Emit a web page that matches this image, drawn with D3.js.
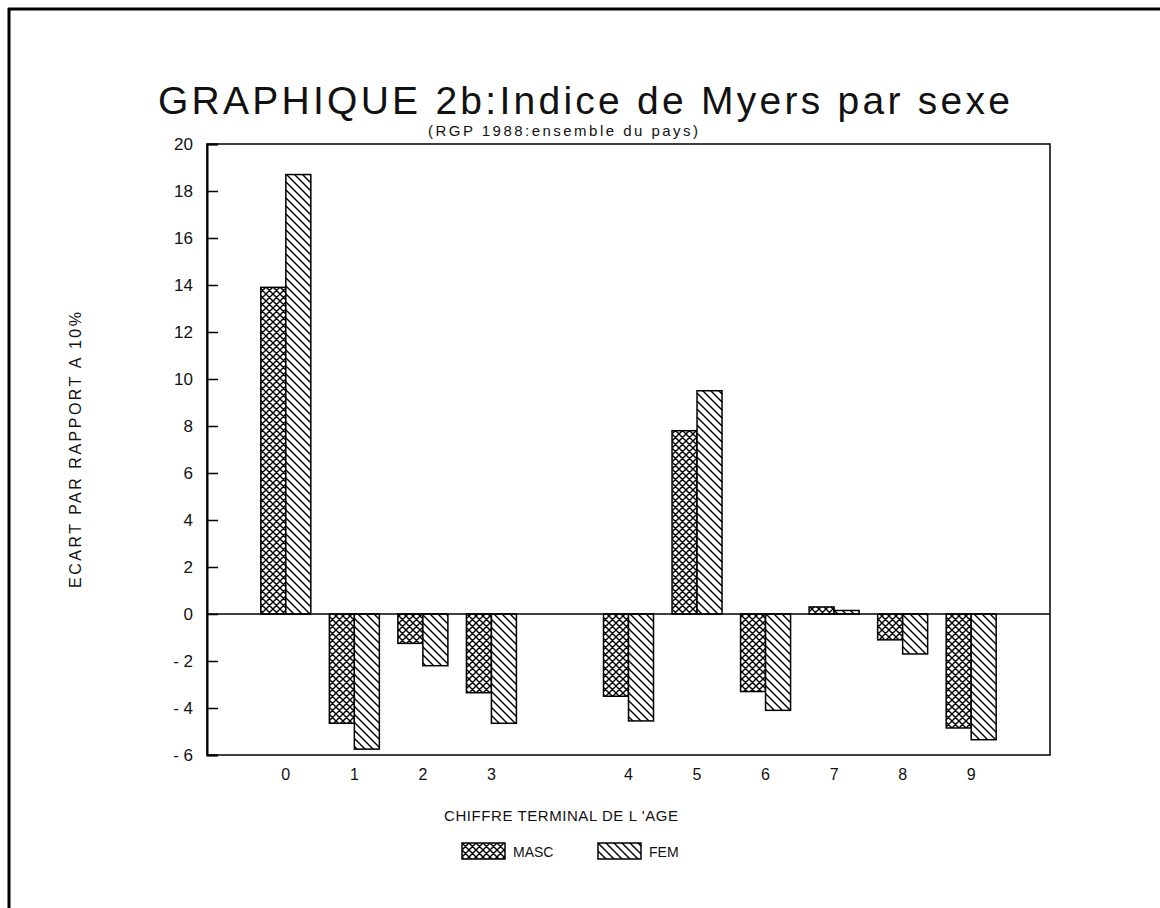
<!DOCTYPE html>
<html>
<head>
<meta charset="utf-8">
<script src="https://cdn.jsdelivr.net/npm/d3@7"></script>
<style>
  body { margin: 0; background: #fff; }
  text { font-family: 'Liberation Sans', Arial, sans-serif; fill: #111; }
</style>
</head>
<body>
<div class="chart"></div>
<script>
// chiffre terminal de l'age (with a blank slot between 3 and 4, as in the original)
var categories = ['0', '1', '2', '3', '4', '5', '6', '7', '8', '9'];
var slots = ['0', '1', '2', '3', 'gap', '4', '5', '6', '7', '8', '9'];
var masc = [13.9, -4.65, -1.25, -3.35, -3.5, 7.8, -3.3, 0.3, -1.1, -4.85];
var fem = [18.7, -5.75, -2.2, -4.65, -4.55, 9.5, -4.1, 0.15, -1.7, -5.35];
var yTicks = [-6, -4, -2, 0, 2, 4, 6, 8, 10, 12, 14, 16, 18, 20];

var W = 1160, H = 908;
var plot = { left: 207, right: 1050, top: 144, bottom: 755 };

var svg = d3.select('.chart')
  .append('svg')
  .attr('width', W)
  .attr('height', H);

svg.append('rect').attr('width', W).attr('height', H).attr('fill', '#fff');

// hatch patterns
var defs = svg.append('defs');
var cross = defs.append('pattern')
  .attr('id', 'cross')
  .attr('patternUnits', 'userSpaceOnUse')
  .attr('width', 7).attr('height', 7);
cross.append('rect').attr('width', 7).attr('height', 7).attr('fill', '#fff');
cross.append('path')
  .attr('d', 'M0,0L7,7M7,0L0,7M-1,6L1,8M6,-1L8,1M-1,1L1,-1M6,8L8,6')
  .attr('stroke', '#000').attr('stroke-width', 1.4);

var diag = defs.append('pattern')
  .attr('id', 'diag')
  .attr('patternUnits', 'userSpaceOnUse')
  .attr('width', 8).attr('height', 8);
diag.append('rect').attr('width', 8).attr('height', 8).attr('fill', '#fff');
diag.append('path')
  .attr('d', 'M0,0L8,8M-2,6L2,10M6,-2L10,2')
  .attr('stroke', '#000').attr('stroke-width', 1.4);

// page border (top and left edges of the scanned page)
svg.append('line').attr('x1', 8).attr('x2', W).attr('y1', 9).attr('y2', 9)
  .attr('stroke', '#000').attr('stroke-width', 3);
svg.append('line').attr('x1', 9).attr('x2', 9).attr('y1', 8).attr('y2', H)
  .attr('stroke', '#000').attr('stroke-width', 3);

// titles
svg.append('text')
  .attr('x', 158).attr('y', 114)
  .attr('textLength', 852)
  .attr('lengthAdjust', 'spacing')
  .style('font-size', '39px')
  .style('font-weight', '300')
  .text('GRAPHIQUE 2b:Indice de Myers par sexe');

svg.append('text')
  .attr('x', 428).attr('y', 136)
  .attr('textLength', 270)
  .attr('lengthAdjust', 'spacing')
  .style('font-size', '15px')
  .text('(RGP 1988:ensemble du pays)');

// scales
var x = d3.scalePoint()
  .domain(slots)
  .range([plot.left, plot.right])
  .padding(1.15);

var xSub = d3.scaleBand()
  .domain(['masc', 'fem'])
  .range([-25, 25]);

var y = d3.scaleLinear()
  .domain([-6, 20])
  .range([plot.bottom, plot.top]);

// frame
svg.append('rect')
  .attr('x', plot.left).attr('y', plot.top)
  .attr('width', plot.right - plot.left)
  .attr('height', plot.bottom - plot.top)
  .attr('fill', 'none')
  .attr('stroke', '#000')
  .attr('stroke-width', 1.5);

// left axis, ticks pointing inward
var yAxis = svg.append('g')
  .attr('class', 'yAxis')
  .attr('transform', 'translate(' + plot.left + ',0)')
  .call(d3.axisRight(y)
    .tickValues(yTicks)
    .tickSize(11)
    .tickFormat(function (d) { return d < 0 ? '- ' + Math.abs(d) : d; }));
yAxis.select('.domain').attr('stroke-width', 2);
yAxis.selectAll('.tick line').attr('stroke-width', 1.5);
yAxis.selectAll('.tick text')
  .attr('x', -14)
  .attr('text-anchor', 'end')
  .style('font-size', '17px')
  .style('font-family', 'Liberation Sans, Arial, sans-serif');

// x labels
svg.append('g')
  .selectAll('text')
  .data(categories)
  .enter()
  .append('text')
  .attr('x', function (d) { return x(d); })
  .attr('y', 780)
  .attr('text-anchor', 'middle')
  .style('font-size', '16px')
  .text(function (d) { return d; });

// bars
function drawBars(values, key, fill) {
  svg.append('g')
    .selectAll('rect')
    .data(values)
    .enter()
    .append('rect')
    .attr('x', function (d, i) { return x(categories[i]) + xSub(key); })
    .attr('width', xSub.bandwidth())
    .attr('y', function (d) { return y(Math.max(0, d)); })
    .attr('height', function (d) { return Math.abs(y(d) - y(0)); })
    .attr('fill', fill)
    .attr('stroke', '#000')
    .attr('stroke-width', 1.5);
}
drawBars(masc, 'masc', 'url(#cross)');
drawBars(fem, 'fem', 'url(#diag)');

// zero line
svg.append('line')
  .attr('x1', plot.left).attr('x2', plot.right)
  .attr('y1', y(0)).attr('y2', y(0))
  .attr('stroke', '#000').attr('stroke-width', 1.5);

// axis titles
svg.append('text')
  .attr('transform', 'translate(81,450) rotate(-90)')
  .attr('text-anchor', 'middle')
  .attr('textLength', 276)
  .attr('lengthAdjust', 'spacing')
  .style('font-size', '16px')
  .text('ECART PAR RAPPORT A 10%');

svg.append('text')
  .attr('x', 444).attr('y', 821)
  .attr('textLength', 234)
  .attr('lengthAdjust', 'spacing')
  .style('font-size', '15px')
  .text("CHIFFRE TERMINAL DE L 'AGE");

// legend
var legend = [
  { label: 'MASC', fill: 'url(#cross)', x: 462 },
  { label: 'FEM', fill: 'url(#diag)', x: 598 }
];
var lg = svg.append('g').selectAll('g')
  .data(legend)
  .enter()
  .append('g')
  .attr('transform', function (d) { return 'translate(' + d.x + ',843)'; });
lg.append('rect')
  .attr('width', 43).attr('height', 16)
  .attr('fill', function (d) { return d.fill; })
  .attr('stroke', '#000').attr('stroke-width', 1.5);
lg.append('text')
  .attr('x', 51).attr('y', 14)
  .style('font-size', '14px')
  .text(function (d) { return d.label; });
</script>
</body>
</html>
